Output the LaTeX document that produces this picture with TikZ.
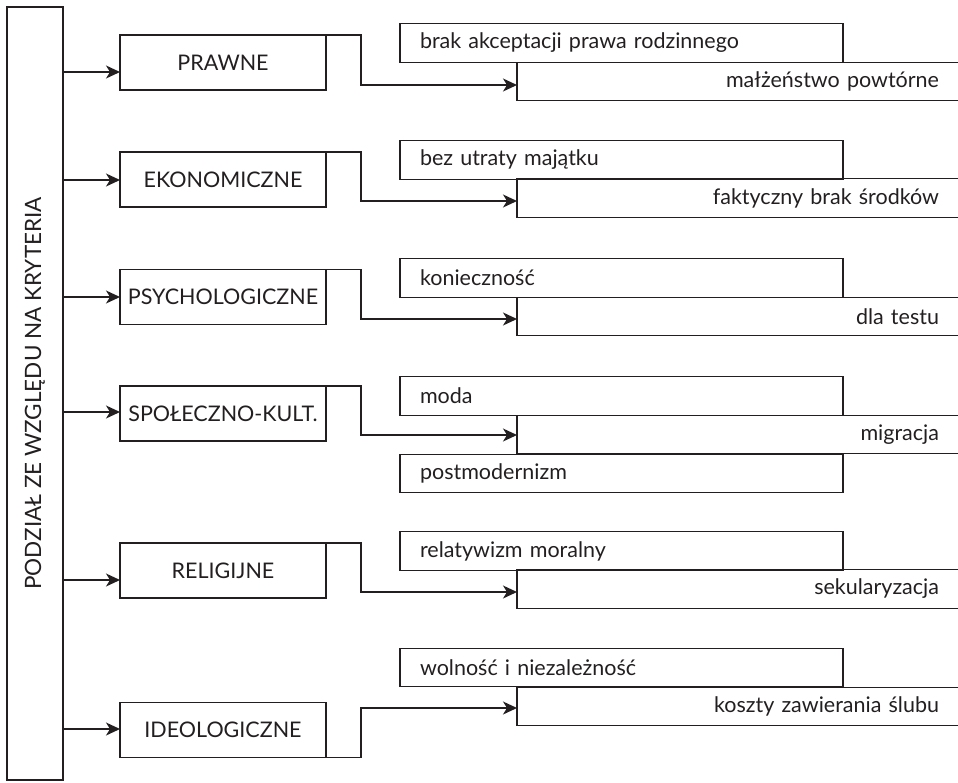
\documentclass[tikz,border=0pt]{standalone}
\usepackage{fontspec}
\setmainfont{Lato}
\usetikzlibrary{arrows.meta}
\definecolor{ink}{HTML}{231F20}
\begin{document}
\begin{tikzpicture}[x=1pt,y=-1pt,
  every node/.style={font=\fontsize{21.5}{24}\selectfont, text=ink},
  frame/.style={draw=ink, line width=1.4pt, outer sep=0pt, inner sep=0pt},
  catbox/.style={frame, minimum width=206pt, minimum height=55pt},
  upbox/.style={frame, minimum height=38.5pt, text width=403pt, inner xsep=20pt, align=left},
  lowbox/.style={frame, minimum height=38.5pt, text width=383pt, inner xsep=39pt, align=right},
  arr/.style={draw=ink, line width=1.4pt, -{Stealth[length=14pt,width=13pt,inset=4pt]}}
]
\useasboundingbox (0,0) rectangle (958,782);
\clip (0,0) rectangle (958,782);

% root
\node[frame, minimum width=56pt, minimum height=773pt] (root) at (35,393.5) {};
\node[rotate=90, font=\fontsize{22.5}{24}\selectfont] (rootlabel) at (root.center) {PODZIAŁ ZE WZGLĘDU NA KRYTERIA};

% categories
\node[catbox] (c1) at (223,62.5) {PRAWNE};
\node[catbox] (c2) at (223,179.5) {EKONOMICZNE};
\node[catbox] (c3) at (223,297) {PSYCHOLOGICZNE};
\node[catbox] (c4) at (223,413.5) {SPOŁECZNO-KULT.};
\node[catbox] (c5) at (223,570.5) {RELIGIJNE};
\node[catbox] (c6) at (223,730) {IDEOLOGICZNE};

% upper boxes
\node[upbox] (u1) at (621.5,43) {brak akceptacji prawa rodzinnego};
\node[upbox] (u2) at (621.5,160) {bez utraty majątku};
\node[upbox] (u3) at (621.5,278) {konieczność};
\node[upbox] (u4) at (621.5,396) {moda};
\node[upbox] (u5) at (621.5,551) {relatywizm moralny};
\node[upbox] (u6) at (621.5,667.5) {wolność i niezależność};
\node[upbox] (u4b) at (621.5,473.5) {postmodernizm};

% lower boxes
\node[lowbox] (l1) at (747.5,81.5) {małżeństwo powtórne};
\node[lowbox] (l2) at (747.5,198) {faktyczny brak środków};
\node[lowbox] (l3) at (747.5,316.5) {dla testu};
\node[lowbox] (l4) at (747.5,434.5) {migracja};
\node[lowbox] (l5) at (747.5,589) {sekularyzacja};
\node[lowbox] (l6) at (747.5,706.5) {koszty zawierania ślubu};

% arrows root -> categories
\draw[arr] (root.east |- 0,72) -- (c1.west |- 0,72);
\draw[arr] (root.east |- 0,180) -- (c2.west |- 0,180);
\draw[arr] (root.east |- 0,297) -- (c3.west |- 0,297);
\draw[arr] (root.east |- 0,412) -- (c4.west |- 0,412);
\draw[arr] (root.east |- 0,580) -- (c5.west |- 0,580);
\draw[arr] (root.east |- 0,729) -- (c6.west |- 0,729);

% connectors categories -> lower boxes
\draw[arr] (c1.north east) -| (361,85) -- (l1.west |- 0,85);
\draw[arr] (c2.north east) -| (361,201) -- (l2.west |- 0,201);
\draw[arr] (c3.north east) -| (361,319) -- (l3.west |- 0,319);
\draw[arr] (c4.north east) -| (361,435) -- (l4.west |- 0,435);
\draw[arr] (c5.north east) -| (361,592) -- (l5.west |- 0,592);
\draw[arr] (c6.south east) -| (361,708) -- (l6.west |- 0,708);
\end{tikzpicture}
\end{document}
